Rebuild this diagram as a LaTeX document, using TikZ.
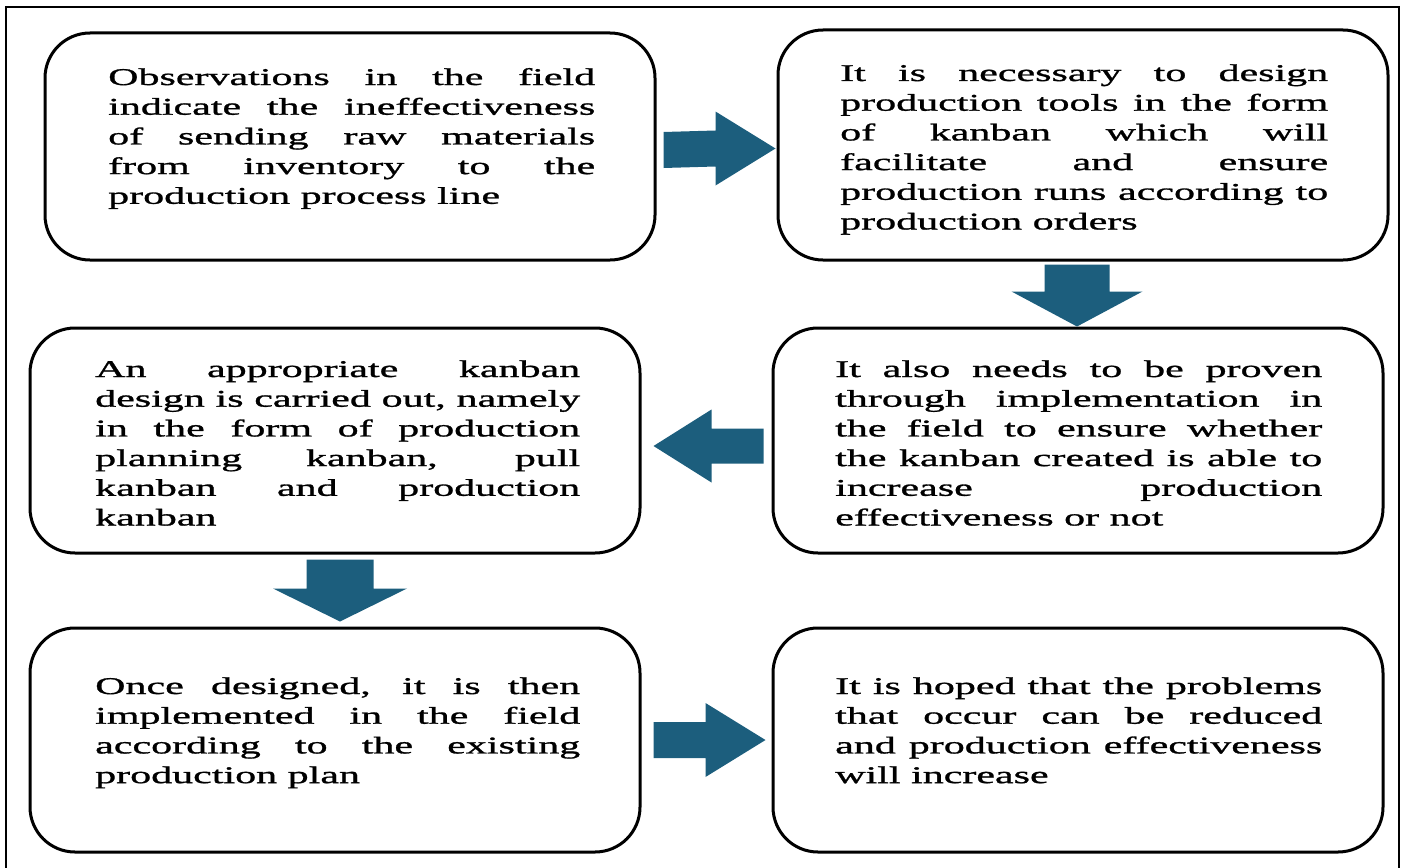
\documentclass[tikz,border=0pt]{standalone}
\usepackage{fontspec}
\setmainfont{Liberation Serif}[FakeStretch=1.75,FakeBold=1.2]
\usetikzlibrary{calc}
\definecolor{arrowblue}{RGB}{28,94,125}
\newcommand{\jl}[1]{\makebox[\linewidth][s]{#1}\\}
% horizontal block arrow: tail centre, tip, head length (signed), shaft half width, head half width
\newcommand{\harrow}[5]{\fill[blockarrow] ($(#1)+(0,-#4)$) -- ($(#2)+({-(#3)},-#4)$) -- ($(#2)+({-(#3)},-#5)$) -- (#2) -- ($(#2)+({-(#3)},#5)$) -- ($(#2)+({-(#3)},#4)$) -- ($(#1)+(0,#4)$) -- cycle;}
% vertical block arrow (pointing down)
\newcommand{\varrow}[5]{\fill[blockarrow] ($(#1)+(-#4,0)$) -- ($(#2)+(-#4,{-(#3)})$) -- ($(#2)+(-#5,{-(#3)})$) -- (#2) -- ($(#2)+(#5,{-(#3)})$) -- ($(#2)+(#4,{-(#3)})$) -- ($(#1)+(#4,0)$) -- cycle;}
\begin{document}
\begin{tikzpicture}[x=1pt,y=-1pt,
  stepbox/.style={draw=black, line width=3pt, rounded corners=45pt, inner sep=0pt, minimum width=610pt},
  txt/.style={anchor=base west, inner sep=0pt, font=\fontsize{24}{29.7}\selectfont},
  blockarrow/.style={fill=arrowblue},
]
\useasboundingbox (0,0) rectangle (1404,867);
\draw[line width=2.5pt] (6,880) -- (6,7) -- (1399,7) -- (1399,880);

% boxes
\node[stepbox, minimum height=227pt] (b1) at (350,146.5) {};
\node[stepbox, minimum height=230pt] (b2) at (1083,145) {};
\node[stepbox, minimum height=225pt] (b3) at (335,440.5) {};
\node[stepbox, minimum height=225pt] (b4) at (1078,440.5) {};
\node[stepbox, minimum height=224pt] (b5) at (335,740) {};
\node[stepbox, minimum height=224pt] (b6) at (1078,740) {};

% texts
\node[txt] (t1) at (108,85) {\parbox[t]{487pt}{\fontsize{24}{29.7}\selectfont
\jl{Observations in the field}
\jl{indicate the ineffectiveness}
\jl{of sending raw materials}
\jl{from inventory to the}
production process line}};
\node[txt] (t2) at (840,81) {\parbox[t]{488pt}{\fontsize{24}{29.7}\selectfont
\jl{It is necessary to design}
\jl{production tools in the form}
\jl{of kanban which will}
\jl{facilitate and ensure}
\jl{production runs according to}
production orders}};
\node[txt] (t3) at (95,377) {\parbox[t]{485pt}{\fontsize{24}{29.7}\selectfont
\jl{An appropriate kanban}
\jl{design is carried out, namely}
\jl{in the form of production}
\jl{planning kanban, pull}
\jl{kanban and production}
kanban}};
\node[txt] (t4) at (835,377) {\parbox[t]{487pt}{\fontsize{24}{29.7}\selectfont
\jl{It also needs to be proven}
\jl{through implementation in}
\jl{the field to ensure whether}
\jl{the kanban created is able to}
\jl{increase production}
effectiveness or not}};
\node[txt] (t5) at (95,694) {\parbox[t]{485pt}{\fontsize{24}{29.7}\selectfont
\jl{Once designed, it is then}
\jl{implemented in the field}
\jl{according to the existing}
production plan}};
\node[txt] (t6) at (835,694) {\parbox[t]{487pt}{\fontsize{24}{29.7}\selectfont
\jl{It is hoped that the problems}
\jl{that occur can be reduced}
\jl{and production effectiveness}
will increase}};

% block arrows (named ends on the boxes)
\coordinate (a1s) at ([shift={(7,3.5)}]b1.east);
\coordinate (a1e) at ([shift={(-1,3.5)}]b2.west);
\coordinate (a2s) at ([shift={(-6,3)}]b2.south);
\coordinate (a2e) at ([shift={(-1,0)}]b4.north);
\coordinate (a3s) at ([shift={(-8,5.5)}]b4.west);
\coordinate (a3e) at ([shift={(12,5.5)}]b3.east);
\coordinate (a4s) at ([shift={(5,5)}]b3.south);
\coordinate (a4e) at ([shift={(5,-5)}]b5.north);
\coordinate (a5s) at ([shift={(12,0)}]b5.east);
\coordinate (a5e) at ([shift={(-6,0)}]b6.west);
\harrow{a1s}{a1e}{60}{18}{37}
\varrow{a2s}{a2e}{35}{32.5}{65.5}
\harrow{a3s}{a3e}{-58}{17.5}{36.5}
\varrow{a4s}{a4e}{33}{33.5}{67}
\harrow{a5s}{a5e}{60}{18}{37}
\end{tikzpicture}
\end{document}
